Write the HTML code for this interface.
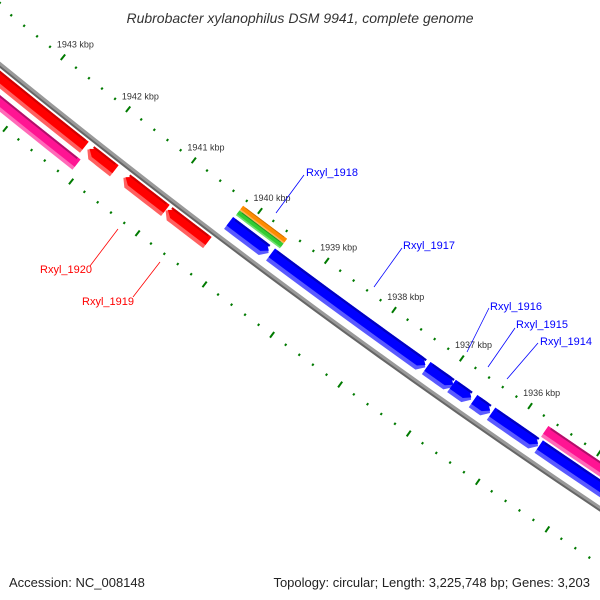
<!DOCTYPE html>
<html><head><meta charset="utf-8"><style>
html,body{margin:0;padding:0;background:#fff}
svg{display:block;font-family:"Liberation Sans",sans-serif}
</style></head><body>
<svg id="map" width="600" height="600" viewBox="0 0 600 600" xmlns="http://www.w3.org/2000/svg">
<rect width="600" height="600" fill="#fff"/>
<text x="300" y="23" text-anchor="middle" font-size="14" font-style="italic" fill="#333">Rubrobacter xylanophilus DSM 9941, complete genome</text>
<g id="ticks"></g>
<g id="backbone"></g>
<g id="feats"></g>
<g font-size="11">
<line x1="276" y1="213" x2="304" y2="175" stroke="#0000ff" stroke-width="0.8"/>
<text x="306" y="176" fill="#0000ff">Rxyl_1918</text>
<line x1="374" y1="287" x2="402" y2="248" stroke="#0000ff" stroke-width="0.8"/>
<text x="403" y="249" fill="#0000ff">Rxyl_1917</text>
<line x1="467" y1="352" x2="489" y2="308" stroke="#0000ff" stroke-width="0.8"/>
<text x="490" y="310" fill="#0000ff">Rxyl_1916</text>
<line x1="488" y1="367" x2="515" y2="328" stroke="#0000ff" stroke-width="0.8"/>
<text x="516" y="328" fill="#0000ff">Rxyl_1915</text>
<line x1="507" y1="379" x2="538" y2="343" stroke="#0000ff" stroke-width="0.8"/>
<text x="540" y="345" fill="#0000ff">Rxyl_1914</text>
<line x1="90" y1="266" x2="118" y2="229" stroke="#ff0000" stroke-width="0.8"/>
<text x="40" y="273" fill="#ff0000">Rxyl_1920</text>
<line x1="133" y1="297" x2="160" y2="262" stroke="#ff0000" stroke-width="0.8"/>
<text x="82" y="305" fill="#ff0000">Rxyl_1919</text>
</g>
<text x="9" y="587" font-size="13" fill="#222">Accession: NC_008148</text>
<text x="590" y="587" font-size="13" text-anchor="end" fill="#222">Topology: circular; Length: 3,225,748 bp; Genes: 3,203</text>
</svg>
<script>
const featStart=[1942129,1941675,1940904,1940274,1942074,1939615,1937295,1936886,1936623,1936347,1935650,1934400,1934400,1939540,1939540];
const featEnd=[1943700,1942083,1941537,1940900,1943700,1940214,1939586,1937281,1936910,1936595,1936332,1935640,1935684,1940200,1940200];
const featType=['red','red','red','red','pinkIn','blue','blue','blue','blue','blue','blue','blue','pinkOut','orange','green'];
const featArrow=['none','hi','hi','hi','none','lo','lo','lo','lo','lo','lo','none','none','none','none'];
const tickStart=1933800, tickEnd=1944000, tickStep=200;
const tickLabels=['1936 kbp','1937 kbp','1938 kbp','1939 kbp','1940 kbp','1941 kbp','1942 kbp','1943 kbp'];
const tickLabelBp=[1936000,1937000,1938000,1939000,1940000,1941000,1942000,1943000];

const NS='http://www.w3.org/2000/svg';
const CX=5053, CY=-6138, R=8000;
function ang(bp){return (128.85+(bp-1943000)*0.0006)*Math.PI/180;}
function pt(bp,v){const a=ang(bp),r=R+v;return [CX+r*Math.cos(a),CY+r*Math.sin(a)];}
const tracks={
 red:{v1:5,v2:19,main:'#ff0000',light:'#ff6060',dark:'#d00000'},
 pinkIn:{v1:24,v2:37,main:'#ff1493',light:'#ff6ab8',dark:'#b0106a'},
 blue:{v1:-24,v2:-9,main:'#0000ff',light:'#5a5aff',dark:'#0000c0'},
 pinkOut:{v1:-39,v2:-26,main:'#ff1493',light:'#ff6ab8',dark:'#b0106a'},
 orange:{v1:-39,v2:-33,main:'#ff8c00',light:'#ffb050',dark:'#d07000'},
 green:{v1:-33,v2:-27,main:'#33cc33',light:'#70e070',dark:'#209020'}
};
function shape(lo,hi,v1,v2,arrow){
 const head=80, vm=(v1+v2)/2, pts=[];
 let a=lo,b=hi;
 if(arrow==='hi') b=hi-head; if(arrow==='lo') a=lo+head;
 const n=8;
 for(let i=0;i<=n;i++) pts.push(pt(a+(b-a)*i/n,v1));
 if(arrow==='hi') pts.push(pt(hi,vm));
 for(let i=n;i>=0;i--) pts.push(pt(a+(b-a)*i/n,v2));
 if(arrow==='lo') pts.push(pt(lo,vm));
 return pts.map(p=>p[0].toFixed(2)+','+p[1].toFixed(2)).join(' ');
}
const feats=document.getElementById('feats');
for(let i=0;i<featStart.length;i++){
 const t=tracks[featType[i]];
 const g=document.createElementNS(NS,'g');
 
 
 const p1=document.createElementNS(NS,'polygon');
 
 
 p1.setAttribute('points',shape(featStart[i],featEnd[i],t.v1,t.v2,featArrow[i]));
 p1.setAttribute('fill',t.light);
 g.appendChild(p1);
 const p2=document.createElementNS(NS,'polygon');
 
 
 const h=t.v2-t.v1;
 p2.setAttribute('points',shape(featStart[i]+ (featArrow[i]==='lo'?15:0),featEnd[i]-(featArrow[i]==='hi'?15:0),t.v1,t.v1+h*0.72,featArrow[i]));
 p2.setAttribute('fill',t.main);
 g.appendChild(p2);
 const p3=document.createElementNS(NS,'polygon');
 
 
 p3.setAttribute('points',shape(featStart[i]+40,featEnd[i]-40,t.v1,t.v1+h*0.15,'none'));
 p3.setAttribute('fill',t.dark);
 g.appendChild(p3);
 feats.appendChild(g);
}
// backbone
const bb=document.getElementById('backbone');
function arcPath(v,b1,b2){let d='';for(let i=0;i<=40;i++){const p=pt(b1+(b2-b1)*i/40,v);d+=(i?'L':'M')+p[0].toFixed(2)+' '+p[1].toFixed(2);}return d;}
const sh=document.createElementNS(NS,'path');


sh.setAttribute('d',arcPath(1.5,1934300,1943700));
sh.setAttribute('stroke','#666');sh.setAttribute('stroke-width','3');sh.setAttribute('fill','none');
bb.appendChild(sh);
const bl=document.createElementNS(NS,'path');


bl.setAttribute('d',arcPath(-0.5,1934300,1943700));
bl.setAttribute('stroke','#999');bl.setAttribute('stroke-width','3');bl.setAttribute('fill','none');
bb.appendChild(bl);
// ticks
const tg=document.getElementById('ticks');
const rows=[-45,47];
for(let bp=tickStart;bp<=tickEnd;bp+=tickStep){
 const major=(bp%1000===0);
 for(const rv of rows){
  const len=major?3.5:1.2;
  const a=pt(bp,rv-len),b=pt(bp,rv+len);
  const l=document.createElementNS(NS,'line');
  
  
  l.setAttribute('x1',a[0]);l.setAttribute('y1',a[1]);l.setAttribute('x2',b[0]);l.setAttribute('y2',b[1]);
  l.setAttribute('stroke','#007a00');l.setAttribute('stroke-width','2');
  tg.appendChild(l);
 }
}
for(let i=0;i<tickLabels.length;i++){
 const p=pt(tickLabelBp[i],-60);
 const t=document.createElementNS(NS,'text');
 
 
 t.setAttribute('x',p[0]+3);t.setAttribute('y',p[1]+2);
 t.setAttribute('text-anchor','middle');t.setAttribute('font-size','9');t.setAttribute('fill','#333');
 t.textContent=tickLabels[i];
 tg.appendChild(t);
}
</script>
</body></html>
